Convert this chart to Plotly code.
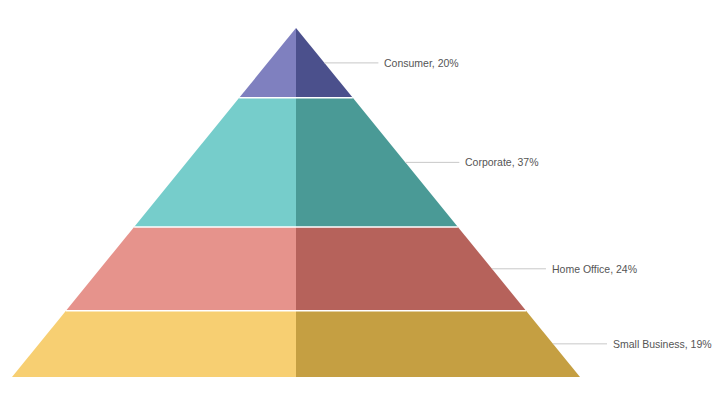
import plotly.graph_objects as go

categories = ["Consumer", "Corporate", "Home Office", "Small Business"]
shares = [20, 37, 24, 19]
left_colors = ["#7f80bf", "#76cdcb", "#e6938c", "#f7cf72"]
right_colors = ["#4b508c", "#4a9a96", "#b6625b", "#c59f42"]

W, H = 720, 398
apex_x, apex_y = 296, 28
base_y = 377
half_base = 284
total_h = base_y - apex_y
total = sum(shares)

def half_width(y):
    return half_base * (y - apex_y) / total_h

fig = go.Figure()
y0 = apex_y
for cat, s, lc, rc in zip(categories, shares, left_colors, right_colors):
    y1 = y0 + total_h * s / total
    w0, w1 = half_width(y0), half_width(y1)
    fig.add_trace(go.Scatter(
        x=[apex_x - w0, apex_x, apex_x, apex_x - w1, apex_x - w0],
        y=[y0, y0, y1, y1, y0], fill="toself", fillcolor=lc,
        line=dict(width=0), mode="lines", hoverinfo="skip", showlegend=False))
    fig.add_trace(go.Scatter(
        x=[apex_x, apex_x + w0, apex_x + w1, apex_x, apex_x],
        y=[y0, y0, y1, y1, y0], fill="toself", fillcolor=rc,
        line=dict(width=0), mode="lines", hoverinfo="skip", showlegend=False))
    ym = (y0 + y1) / 2
    xm = apex_x + half_width(ym)
    fig.add_trace(go.Scatter(
        x=[xm, xm + 54], y=[ym, ym], mode="lines",
        line=dict(color="#c8c8c8", width=1), hoverinfo="skip", showlegend=False))
    fig.add_annotation(x=xm + 58, y=ym, text=f"{cat}, {s}%", showarrow=False,
                       xanchor="left", yanchor="middle",
                       font=dict(family="Liberation Sans, Arial, sans-serif", size=10.5, color="#555555"))
    y0 = y1

y0 = apex_y
for s in shares[:-1]:
    y0 = y0 + total_h * s / total
    w = half_width(y0)
    fig.add_trace(go.Scatter(x=[apex_x - w, apex_x + w], y=[y0, y0], mode="lines",
                             line=dict(color="white", width=1.5), hoverinfo="skip", showlegend=False))

fig.update_layout(
    width=W, height=H, margin=dict(l=0, r=0, t=0, b=0),
    paper_bgcolor="white", plot_bgcolor="white",
    xaxis=dict(range=[0, W], visible=False, fixedrange=True),
    yaxis=dict(range=[H, 0], visible=False, fixedrange=True),
)
fig.write_html("out.html", config={"displayModeBar": False},
               post_script="document.body.style.margin='0';document.body.style.overflow='hidden';")
